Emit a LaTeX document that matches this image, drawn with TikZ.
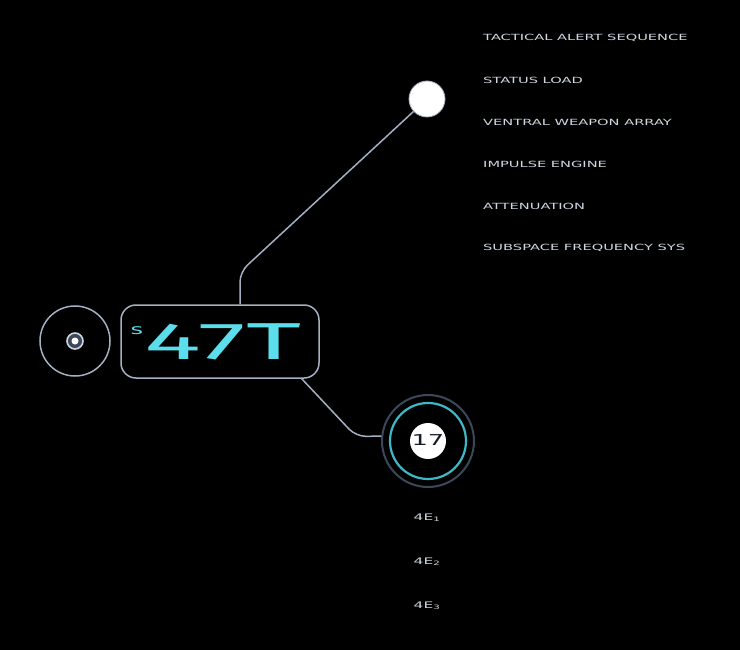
\documentclass[tikz,border=0pt]{standalone}
\usepackage{fontspec}
\usetikzlibrary{calc}
\newfontfamily\hudfont[FakeStretch=1.72]{DejaVu Sans}
\newfontfamily\hudbold[FakeStretch=1.8]{DejaVu Sans Bold}
\newfontfamily\bigfont[FakeStretch=2.05]{Fira Sans}
\definecolor{hudline}{HTML}{A3B0C2}
\definecolor{hudtext}{HTML}{CDD6E2}
\definecolor{hudcyan}{HTML}{5CDDEB}
\definecolor{hudring}{HTML}{3C4859}
\definecolor{hudcyanring}{HTML}{3FB7C6}
\definecolor{huddark}{HTML}{161C28}
\tikzset{
  conn/.style={draw=hudline, line width=1.5pt, rounded corners=10pt},
  menu/.style={anchor=west, text=hudtext, font=\hudfont\fontsize{8.5}{9}\selectfont, inner sep=0pt},
  sublabel/.style={text=hudtext, font=\hudfont\fontsize{9}{9}\selectfont, inner sep=0pt},
}
\begin{document}
\begin{tikzpicture}[x=1pt,y=-1pt]
\useasboundingbox (0,0) rectangle (740,650);
\fill[black] (0,0) rectangle (740,650);

% left target circle
\node[circle, draw=hudline, line width=1.5pt, minimum size=70pt, inner sep=0pt] (target) at (75,341) {};
\node[circle, draw=hudtext, line width=1.6pt, minimum size=16pt, inner sep=0pt, fill=hudring] (targetring) at (target.center) {};
\node[circle, fill=white, minimum size=7pt, inner sep=0pt] (targetdot) at (target.center) {};

% main box
\node[draw=hudline, line width=1.5pt, rounded corners=15pt, minimum width=198pt, minimum height=73pt, inner sep=0pt] (box) at (220,341.5) {};
\node[text=hudcyan, font=\bigfont\fontsize{52}{52}\selectfont, inner sep=0pt] (code) at (223,342) {47T};
\node[text=hudcyan, font=\hudfont\fontsize{14}{14}\selectfont, inner sep=0pt] (codesup) at (137,331) {s};

% top white circle
\node[circle, fill=white, draw=hudline, line width=0.8pt, minimum size=36pt, inner sep=0pt] (top) at (427,99) {};

% 17 circle
\node[circle, draw=hudring, line width=2pt, minimum size=92pt, inner sep=0pt] (c17) at (428,441) {};
\node[circle, draw=hudcyanring, line width=2.2pt, minimum size=76pt, inner sep=0pt] (c17in) at (c17.center) {};
\node[circle, fill=white, minimum size=36pt, inner sep=0pt] (c17disc) at (c17.center) {};
\node[text=huddark, font=\hudfont\fontsize{15}{15}\selectfont, inner sep=0pt] (c17txt) at (428,440) {17};

% connectors
\draw[conn] ($(box.north)+(20,0)$) -- (240,272) -- (top);
\draw[conn] ($(box.south east)+(-18,0)$) -- (356,436.5) -- (c17.174);

% right menu
\node[menu] (m1) at (483,38) {TACTICAL ALERT SEQUENCE};
\node[menu] (m2) at (483,80) {STATUS LOAD};
\node[menu] (m3) at (483,122) {VENTRAL WEAPON ARRAY};
\node[menu] (m4) at (483,164) {IMPULSE ENGINE};
\node[menu] (m5) at (483,206) {ATTENUATION};
\node[menu] (m6) at (483,248) {SUBSPACE FREQUENCY SYS};

% sub labels
\node[sublabel] (s1) at (427,518) {4E\textsubscript{1}};
\node[sublabel] (s2) at (427,562) {4E\textsubscript{2}};
\node[sublabel] (s3) at (427,606) {4E\textsubscript{3}};
\end{tikzpicture}
\end{document}
